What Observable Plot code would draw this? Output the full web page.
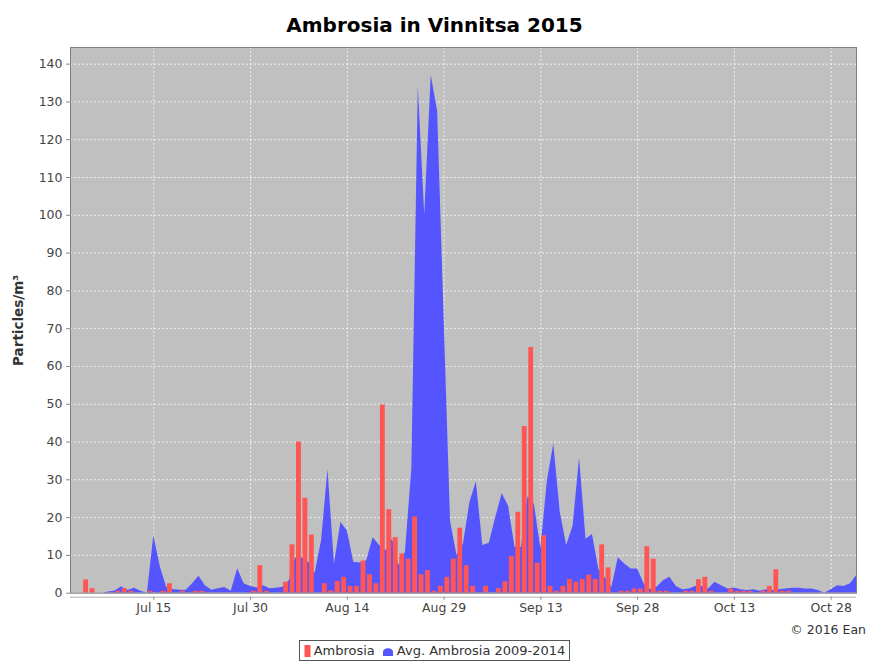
<!DOCTYPE html>
<html>
<head>
<meta charset="utf-8">
<script src="https://cdn.jsdelivr.net/npm/d3@7"></script>
<script src="https://cdn.jsdelivr.net/npm/@observablehq/plot@0.6"></script>
<style>
  html, body { margin: 0; padding: 0; background: #fff; }
  body { width: 869px; height: 661px; overflow: hidden; font-family: "DejaVu Sans", sans-serif; }
  #title { height: 45px; line-height: 50px; text-align: center; font-weight: bold; font-size: 20px; color: #000; }
  #chart svg { display: block; }
  #caption { height: 20px; line-height: 20px; text-align: right; padding-right: 3px; font-size: 12.5px; color: #333; }
  #legendwrap { text-align: center; height: 21px; }
  #legend { display: inline-flex; align-items: center; border: 1px solid #555; height: 21px; box-sizing: border-box; padding: 0 4px; font-size: 13px; color: #333; gap: 3px; }
  #legend .sw { display: inline-block; }
</style>
</head>
<body>
<div id="title"></div>
<div id="chart"></div>
<div id="caption"></div>
<div id="legendwrap"><div id="legend"></div></div>
<script>
// ---- data (one value per day starting at startDate) ----
const chartTitle = "Ambrosia in Vinnitsa 2015";
const yLabel = "Particles/m³";
const captionText = "© 2016 Ean";
const seriesNames = ["Ambrosia", "Avg. Ambrosia 2009-2014"];
const seriesColors = ["#ff5555", "#5555ff"];
const startDate = "2015-07-01";
const ambrosia = [
  0,0,0,3.5,1.2,0,0,0,0.5,1.2,
  0.5,0,0,0.5,0,0.5,2.5,0,0.5,0,
  0.5,0.5,0,0,0,0,0,0,0,0.5,
  7.3,0.5,0,0,2.9,12.8,40,25.1,15.4,0,
  2.5,0.6,3.1,4.2,1.8,1.8,8.5,4.9,2.5,49.8,
  22.1,14.7,10.4,9.0,20.2,4.9,6.0,0.5,1.8,4.2,
  9.0,17.2,7.3,1.8,0,1.8,0,1.2,3.0,9.7,
  21.4,44.1,65.0,7.9,15.2,1.8,0.5,1.8,3.6,2.9,
  3.6,4.8,3.6,12.8,6.7,0,0.5,0.5,1.1,1.1,
  12.3,9.0,0.5,0.5,0,0,0.5,0.5,3.6,4.2,
  0.5,0,0,1.1,0.5,0.5,0.5,0,0.5,1.8,
  6.2,0.5,0.5,0,0,0,0,0,0,0,
  0,0,0,0
];
const avgAmbrosia = [
  0,0,0,0,0,0,0,0.3,0.6,1.7,
  0.7,1.3,0.5,0,15.2,7,1.5,1.0,0.8,0.8,
  2.5,4.5,2.0,0.8,1.2,1.5,0.5,6.5,2.5,1.8,
  1.4,2.0,1.2,1.3,1.6,3.3,9.3,9.3,8.2,5.2,
  13.9,32.7,7.7,18.7,16.5,8.2,8.0,8.6,14.7,12.6,
  11.2,14.3,7.3,10.8,33,134,100,137,127.5,73,
  19,10,13,24,29.5,12.6,13.2,20,26.3,23,
  12.1,12.1,25.5,23.5,11.8,29.6,39.5,21.5,12.6,17.8,
  35.8,14.3,15.5,6.2,4.0,1.5,9.4,7.7,6.4,6.4,
  2.5,1.0,1.6,3.3,4.2,1.8,0.9,1.1,1.8,1.8,
  1.1,2.9,2.0,1.1,1.4,0.9,0.7,0.9,0.5,0.9,
  0.7,0.9,1.1,1.3,1.3,1.1,1.1,0.7,0,0.9,
  2.0,1.8,2.5,4.8
];
const xTickDates = ["2015-07-15","2015-07-30","2015-08-14","2015-08-29","2015-09-13","2015-09-28","2015-10-13","2015-10-28"];
const yTicks = [0,10,20,30,40,50,60,70,80,90,100,110,120,130,140];
const xDomain = ["2015-07-02T02:00:00Z", "2015-10-31T22:20:00Z"];
const yDomain = [0, 144.4];

// ---- build tables ----
const t0 = new Date(startDate + "T00:00:00Z");
const bars = ambrosia.map((v, i) => ({date: d3.utcDay.offset(t0, i), value: v})).filter(d => d.value > 0);
const avg = avgAmbrosia.map((v, i) => ({date: d3.utcDay.offset(t0, i), value: v}));
const xTicks = xTickDates.map(s => new Date(s + "T00:00:00Z"));
const xDom = xDomain.map(s => new Date(s));

document.getElementById("title").textContent = chartTitle;
document.getElementById("caption").textContent = captionText;

const font = "DejaVu Sans, sans-serif";
const chart = Plot.plot({
  width: 869,
  height: 575,
  marginTop: 2,
  marginLeft: 70,
  marginRight: 13,
  marginBottom: 27.3,
  style: {fontFamily: font, background: "transparent", color: "#444", fontSize: "12px"},
  x: {type: "utc", domain: xDom},
  y: {domain: yDomain},
  marks: [
    Plot.frame({fill: "#c0c0c0"}),
    Plot.gridY(yTicks, {stroke: "#ffffff", strokeOpacity: 0.75, strokeDasharray: "2,2"}),
    Plot.gridX(xTicks, {stroke: "#ffffff", strokeOpacity: 0.75, strokeDasharray: "2,2"}),
    Plot.areaY(avg, {x: "date", y: "value", fill: seriesColors[1], clip: true}),
    Plot.rectY(bars, {x1: "date", x2: d => d3.utcDay.offset(d.date, 1), y: "value", fill: seriesColors[0], insetLeft: 0.8, insetRight: 0.8, clip: true}),
    Plot.frame({stroke: "#808080"}),
    Plot.ruleY([0], {dy: 4, stroke: "#b0b0b0"}),
    Plot.axisY(yTicks, {tickSize: 4, tickPadding: 4, label: null, fontSize: 12.5, color: "#444", stroke: "#888"}),
    Plot.axisX(xTicks, {tickSize: 3, dy: 4, tickPadding: 3, label: null, tickFormat: d3.utcFormat("%b %d"), fontSize: 12.5, color: "#444", stroke: "#888"}),
    Plot.text([yLabel], {frameAnchor: "left", textAnchor: "middle", dx: -52, rotate: -90, text: d => d, fontWeight: "bold", fontSize: 13.5, fill: "#333"})
  ]
});
document.getElementById("chart").appendChild(chart);

// ---- legend ----
const legend = document.getElementById("legend");
seriesNames.forEach((name, i) => {
  const sw = document.createElementNS("http://www.w3.org/2000/svg", "svg");
  sw.setAttribute("width", i === 0 ? 7 : 12);
  sw.setAttribute("height", 12);
  sw.setAttribute("class", "sw");
  if (i === 0) {
    sw.innerHTML = `<rect x="0.5" y="0" width="6" height="12" fill="${seriesColors[0]}"/>`;
  } else {
    sw.innerHTML = `<path d="M1,11 L1,7 C1,2 11,2 11,7 L11,11 Z" fill="${seriesColors[1]}"/>`;
  }
  legend.appendChild(sw);
  const s = document.createElement("span");
  s.textContent = name;
  s.style.marginRight = i === 0 ? "4px" : "0";
  legend.appendChild(s);
});
</script>
</body>
</html>
